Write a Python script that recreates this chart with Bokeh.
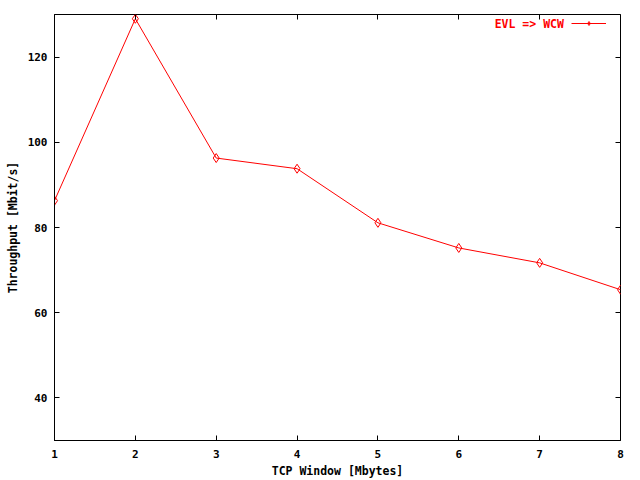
from bokeh.plotting import figure
from bokeh.models import (Range1d, FixedTicker, LinearAxis, Legend, LegendItem, Label,
                          CustomLabelingPolicy)
from bokeh.embed import file_html
from bokeh.resources import INLINE

# data
tcp_window = [1, 2, 3, 4, 5, 6, 7, 8]
throughput = [86.3, 129.0, 96.3, 93.8, 81.1, 75.2, 71.7, 65.4]
series_name = "EVL => WCW"
x_ticks = [1, 2, 3, 4, 5, 6, 7, 8]
y_ticks = [40, 60, 80, 100, 120]
x_title = "TCP Window [Mbytes]"
y_title = "Throughput [Mbit/s]"

FONT = "DejaVu Sans Mono"
RED = "#ff0000"

p = figure(width=640, height=480, output_backend="svg", toolbar_location=None,
           x_range=Range1d(1, 8), y_range=Range1d(30, 130),
           min_border_left=54, min_border_right=20, min_border_top=14, min_border_bottom=39)
p.grid.visible = False
p.outline_line_color = "black"
p.outline_line_width = 1
p.background_fill_color = "white"
p.border_fill_color = "white"

def style_axis(ax, ticks, labels=True):
    ax.ticker = FixedTicker(ticks=ticks)
    ax.major_tick_in = 5
    ax.major_tick_out = 0
    ax.minor_tick_line_color = None
    ax.major_tick_line_color = "black"
    ax.axis_line_color = "black"
    ax.major_label_text_font = FONT
    ax.major_label_text_font_style = "bold"
    ax.major_label_text_font_size = "11px" if labels else "1px"
    ax.major_label_text_color = "black"
    ax.axis_label_text_font = FONT
    ax.axis_label_text_font_style = "bold"
    ax.axis_label_text_font_size = "11.5px"
    ax.axis_label_text_color = "black"
    if not labels:
        ax.major_label_policy = CustomLabelingPolicy(code="return []")
        ax.major_label_standoff = 0
        ax.axis_line_color = None

style_axis(p.xaxis[0], x_ticks)
style_axis(p.yaxis[0], y_ticks)
p.xaxis[0].axis_label = x_title
p.yaxis[0].axis_label = y_title
p.xaxis[0].major_label_standoff = 9
p.xaxis[0].axis_label_standoff = 3
p.yaxis[0].major_label_standoff = 7
p.yaxis[0].axis_label_standoff = 5

top = LinearAxis()
style_axis(top, x_ticks, labels=False)
p.add_layout(top, "above")
right = LinearAxis()
style_axis(right, y_ticks, labels=False)
p.add_layout(right, "right")

line_r = p.line(tcp_window, throughput, line_color=RED, line_width=1)
pts_r = p.scatter(tcp_window, throughput, marker="diamond", size=9,
                  line_color=RED, fill_color=None, line_width=1)

legend = Legend(items=[LegendItem(label=" ", renderers=[line_r, pts_r])],
                location=(517, 412), border_line_color=None,
                background_fill_alpha=0, padding=0, margin=0, spacing=0,
                glyph_width=35, glyph_height=10, label_height=10, label_width=0,
                label_standoff=0, label_text_font_size="6px")
p.add_layout(legend)

p.add_layout(Label(x=7.30, y=127.7, text=series_name, text_align="right",
                   text_baseline="middle", text_color=RED, text_font=FONT,
                   text_font_style="bold", text_font_size="11.5px"))

open("out.html", "w").write(file_html(p, INLINE))
